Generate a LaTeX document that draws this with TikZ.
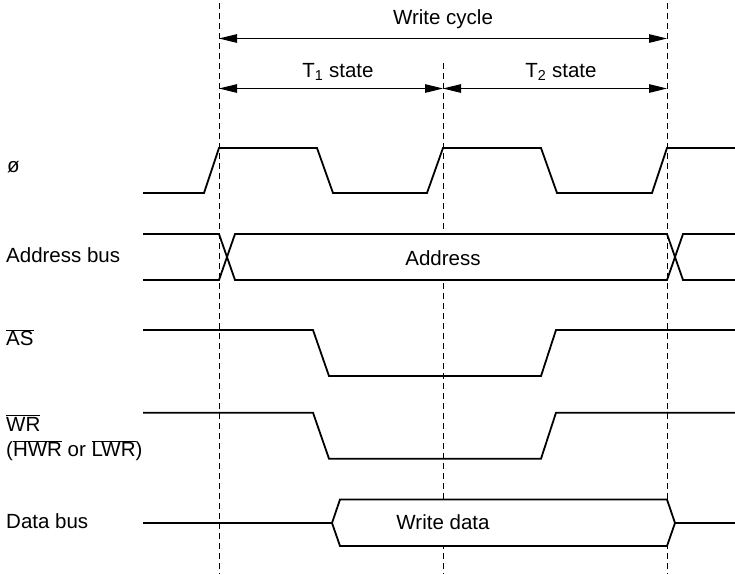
\documentclass[tikz,border=0pt]{standalone}
\usepackage{fontspec}
\setmainfont{Liberation Sans}
\usetikzlibrary{arrows.meta}
\newcommand\ovbar[1]{$\overline{\hbox{#1}}$}
\begin{document}
\begin{tikzpicture}[x=1pt,y=-1pt,
  sig/.style={line width=1.8pt, line join=miter},
  gridline/.style={line width=0.9pt, dash pattern=on 6pt off 4pt},
  dimarrow/.style={line width=1.2pt, {Triangle[length=18pt,width=8.5pt]}-{Triangle[length=18pt,width=8.5pt]}},
  lbl/.style={font=\fontsize{20.5}{24}\selectfont, inner sep=0pt}]
\useasboundingbox (0,0) rectangle (735,574);

% timing grid
\coordinate (g1t) at (219,3);   \coordinate (g1b) at (219,574);
\coordinate (g2t) at (443,63);  \coordinate (g2b) at (443,574);
\coordinate (g3t) at (667,3);   \coordinate (g3b) at (667,574);
\draw[gridline] (g1t) -- (g1b);
\draw[gridline] (g2t) -- (g2b);
\draw[gridline] (g3t) -- (g3b);

% dimension arrows
\coordinate (wcL) at (219,38.5); \coordinate (wcR) at (667,38.5);
\coordinate (t1L) at (219,88.5); \coordinate (tM) at (443,88.5); \coordinate (t2R) at (667,88.5);
\draw[dimarrow] (wcL) -- (wcR);
\draw[dimarrow] (t1L) -- (tM);
\draw[dimarrow] (tM) -- (t2R);
\node[lbl, anchor=base] (twc) at (443,24.5) {Write cycle};
\node[lbl, anchor=base] (tt1) at (338,77) {T\textsubscript{1} state};
\node[lbl, anchor=base] (tt2) at (561,77) {T\textsubscript{2} state};

% clock
\draw[sig] (143,193) -- (204,193) -- (219,148) -- (317,148) -- (333,193) -- (427,193)
  -- (443,148) -- (541,148) -- (557,193) -- (652,193) -- (667,148) -- (735,148);

% address bus
\fill[white] (235,234) rectangle (667,280);
\draw[sig] (143,234) -- (219,234) -- (235,280) -- (667,280) -- (683,234) -- (735,234);
\draw[sig] (143,280) -- (219,280) -- (235,234) -- (667,234) -- (683,280) -- (735,280);
\node[lbl, anchor=base] (taddr) at (443,265) {Address};

% AS
\draw[sig] (143,330) -- (313,330) -- (329,376) -- (541,376) -- (556,330) -- (735,330);

% WR
\draw[sig] (143,412.7) -- (313,412.7) -- (329,458.7) -- (541,458.7) -- (556,412.7) -- (735,412.7);

% data bus
\draw[sig, fill=white] (332,523) -- (340,499.5) -- (667,499.5) -- (675,523) -- (667,546) -- (340,546) -- cycle;
\draw[sig] (143,523) -- (332,523);
\draw[sig] (675,523) -- (735,523);
\node[lbl, anchor=base] (tdata) at (443,529) {Write data};

% signal names
\node[lbl, anchor=base west] (lphi) at (7,172) {ø};
\node[lbl, anchor=base west] (laddr) at (6,262.5) {Address bus};
\node[lbl, anchor=base west] (las) at (6,345.5) {\ovbar{AS}};
\node[lbl, anchor=base west] (lwr) at (6,431) {\ovbar{WR}};
\node[lbl, anchor=base west] (lwr2) at (6,456.5) {(\ovbar{HWR} or \ovbar{LWR})};
\node[lbl, anchor=base west] (ldata) at (6,528.5) {Data bus};
\end{tikzpicture}
\end{document}
